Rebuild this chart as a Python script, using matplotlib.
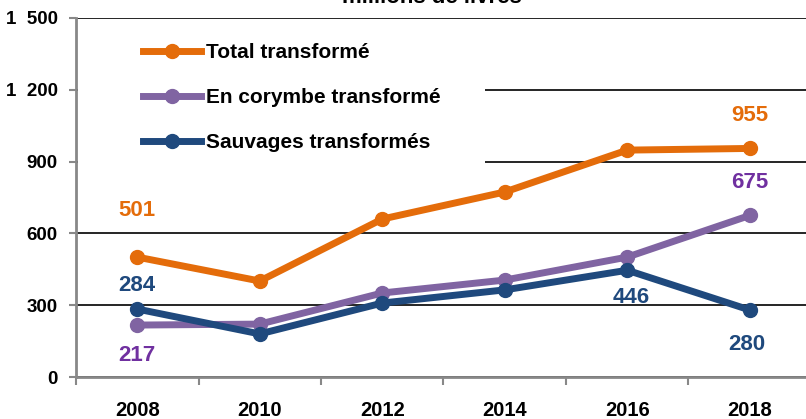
import matplotlib
matplotlib.use("Agg")
import matplotlib.pyplot as plt
from matplotlib.patches import Rectangle

plt.rcParams['font.family'] = ['Liberation Sans Narrow', 'Liberation Sans', 'DejaVu Sans']
plt.rcParams['font.weight'] = 'bold'

years = ["2008", "2010", "2012", "2014", "2016", "2018"]
total = [501, 401, 660, 773, 948, 955]
corymbe = [217, 221, 351, 405, 501, 675]
sauvages = [284, 180, 309, 364, 446, 280]
yticks = [0, 300, 600, 900, 1200, 1500]
ytick_labels = ["0", "300", "600", "900", "1  200", "1  500"]

ORANGE, PURPLE, BLUE = "#E46C0A", "#8064A2", "#1F497D"
PURPLE_TXT = "#7030A0"
GREY = "#888888"

fig = plt.figure(figsize=(8.06, 4.19), dpi=100)
ax = fig.add_axes([76 / 806, 1 - 377 / 419, 735 / 806, 359 / 419])

x = list(range(len(years)))
ax.plot(x, total, color=ORANGE, lw=5, marker="o", ms=10, label="Total transformé", zorder=4)
ax.plot(x, corymbe, color=PURPLE, lw=5, marker="o", ms=10, label="En corymbe transformé", zorder=3)
ax.plot(x, sauvages, color=BLUE, lw=5, marker="o", ms=10, label="Sauvages transformés", zorder=5)

ax.set_xlim(-0.5, 5.5)
ax.set_ylim(0, 1500)
ax.set_yticks(yticks)
ax.set_yticklabels(ytick_labels, fontsize=13.5)
ax.set_xticks(x)
ax.set_xticklabels(years, fontsize=14.5)
ax.set_xticks([i - 0.5 for i in range(7)], minor=True)
ax.tick_params(axis="x", which="major", length=0, pad=17)
ax.tick_params(axis="x", which="minor", length=6, width=1.5, color=GREY, direction="out")
ax.tick_params(axis="y", length=5, width=1.5, color=GREY, direction="out", pad=8)

ax.yaxis.grid(True, color="black", lw=1.2, zorder=1)
ax.set_axisbelow(True)
for s in ("top", "right"):
    ax.spines[s].set_visible(False)
for s in ("left", "bottom"):
    ax.spines[s].set_color(GREY)
    ax.spines[s].set_linewidth(2)

# white panel behind the legend hides the gridlines there
ax.add_patch(Rectangle((0.003, 0.56), 0.553, 0.425, transform=ax.transAxes,
                       facecolor="white", edgecolor="none", zorder=1.5))
leg = ax.legend(loc="upper left", bbox_to_anchor=(0.091, 0.93), frameon=False,
                fontsize=15, handlelength=2.8, handletextpad=0.25, labelspacing=1.25,
                borderpad=0, borderaxespad=0)
for h in leg.legend_handles:
    h.set_markersize(10)

def lab(i, val, color, dx, dy):
    ax.annotate(str(val), (i, val), textcoords="offset pixels", xytext=(dx, dy),
                ha="center", va="center", color=color, fontsize=16, zorder=6)

lab(0, total[0], ORANGE, 0, 47)
lab(0, sauvages[0], BLUE, 0, 24)
lab(0, corymbe[0], PURPLE_TXT, 0, -30)
lab(5, total[5], ORANGE, 0, 33)
lab(5, corymbe[5], PURPLE_TXT, 0, 33)
lab(4, sauvages[4], BLUE, 4, -27)
lab(5, sauvages[5], BLUE, -3, -35)

fig.text(432 / 806, 1 - 3 / 419, "millions de livres", ha="center", va="baseline",
         fontsize=16)

fig.savefig("out.png", dpi=100)
